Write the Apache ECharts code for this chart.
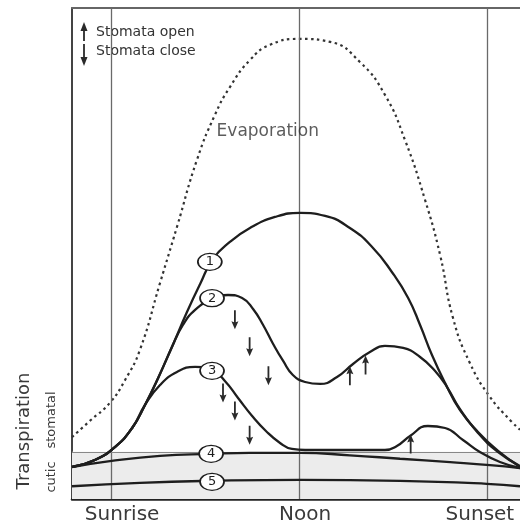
<!DOCTYPE html>
<html>
<head>
<meta charset="utf-8">
<script src="https://cdn.jsdelivr.net/npm/echarts@6/dist/echarts.min.js"></script>
<style>
  html, body { margin: 0; padding: 0; background: #fff; }
  #chart { width: 520px; height: 527px; }
</style>
</head>
<body>
<div id="chart"></div>
<script>
// Daily course of evaporation and transpiration (time of day in hours, relative units)
const dayMarks = [6, 12, 18];
const dayLabels = ['Sunrise', 'Noon', 'Sunset'];
const dayLabelAt = [6.35, 12.19, 17.77];

const evapHours  = [4.75, 5.32, 5.96, 6.44, 6.92, 7.56, 8.10, 8.74, 9.31, 9.79, 10.43, 11.07, 12.03, 12.99, 13.94, 14.74, 15.38, 16.02, 16.50, 16.91, 17.45, 18.09, 18.73, 19.05];
const evapValues = [12.6, 15.9, 19.6, 24.2, 30.4, 44.0, 55.4, 69.1, 78.2, 83.9, 89.4, 92.5, 93.7, 93.1, 89.0, 82.3, 73.1, 60.9, 49.7, 36.9, 27.7, 20.8, 16.1, 14.1];

// 1: unrestricted transpiration
const curve1Hours  = [4.75, 5.48, 6.12, 6.67, 7.08, 7.50, 7.94, 8.42, 8.84, 9.25, 9.79, 10.43, 11.23, 12.03, 12.83, 13.62, 14.33, 14.96, 15.48, 15.86, 16.24, 16.66, 17.13, 17.71, 18.35, 19.05];
const curve1Values = [6.52, 7.94, 10.59, 14.46, 19.15, 24.65, 30.96, 38.09, 43.80, 48.89, 52.35, 55.20, 57.44, 58.26, 57.65, 55.20, 51.33, 46.24, 40.94, 35.44, 29.33, 23.63, 18.13, 13.65, 9.78, 6.52];

// 2: midday depression
const curve2Hours  = [4.75, 5.48, 6.12, 6.67, 7.08, 7.50, 7.94, 8.29, 8.68, 9.22, 9.73, 10.18, 10.53, 10.85, 11.17, 11.49, 11.80, 12.19, 12.67, 13.21, 13.72, 14.26, 14.74, 15.32, 15.86, 16.34, 16.72, 17.13, 17.71, 18.35, 19.05];
const curve2Values = [6.52, 7.94, 10.59, 14.46, 19.15, 24.65, 30.96, 35.44, 38.50, 40.74, 41.55, 40.94, 38.70, 35.44, 31.57, 28.11, 25.26, 23.83, 23.43, 24.85, 27.50, 29.94, 31.17, 30.76, 28.93, 26.07, 22.81, 18.33, 13.44, 9.57, 6.72];

// 3: stomata closed from late morning
const curve3Hours  = [4.75, 5.48, 6.12, 6.67, 7.08, 7.56, 8.10, 8.68, 9.22, 9.63, 10.05, 10.50, 10.94, 11.39, 11.77, 12.19, 13.46, 14.74, 15.12, 15.54, 16.11, 16.66, 17.23, 17.77, 18.41, 19.05];
const curve3Values = [6.52, 7.94, 10.59, 14.46, 19.15, 23.22, 25.87, 26.89, 26.28, 24.04, 20.57, 16.91, 13.85, 11.41, 10.19, 9.98, 9.98, 9.98, 10.80, 12.83, 14.87, 14.46, 12.02, 9.57, 7.54, 6.31];

// 4 and 5: cuticular transpiration only
const curve4Hours  = [4.75, 5.96, 7.56, 9.15, 10.43, 12.03, 13.62, 15.22, 16.82, 18.09, 19.05];
const curve4Values = [6.5, 7.7, 8.8, 9.2, 9.4, 9.4, 8.9, 8.2, 7.5, 6.9, 6.3];

const curve5Hours  = [4.75, 6.92, 9.22, 12.03, 15.22, 17.99, 19.05];
const curve5Values = [2.6, 3.3, 3.7, 3.9, 3.7, 3.1, 2.6];

// Upper limit of cuticular transpiration
const cuticLimit = 9.6;

// Curve number tags
const tagNames  = ['1', '2', '3', '4', '5'];
const tagHours  = [9.15, 9.22, 9.22, 9.19, 9.22];
const tagValues = [48.3, 40.9, 26.1, 9.2, 3.5];

// Stomatal movements
const closeHours  = [9.95, 10.42, 11.02, 9.57, 9.95, 10.42];
const closeValues = [36.5, 31.0, 25.1, 21.6, 17.9, 13.0];
const openHours   = [13.62, 14.12, 15.56];
const openValues  = [25.1, 27.3, 11.2];

const zip = (xs, ys) => xs.map((x, i) => [x, ys[i]]);

const ink = '#1e1e1e';
const font = 'DejaVu Sans';
const arrowPath = 'path://M3.5,0 L7,8 L4.4,7 L4.4,19 L2.6,19 L2.6,7 L0,8 Z';

const curveSeries = (name, data) => ({
  name, type: 'line', data, smooth: 0.5, showSymbol: false,
  lineStyle: { color: ink, width: 2.3 }, z: 5, silent: true
});

const chart = echarts.init(document.getElementById('chart'), null, { renderer: 'canvas' });

chart.setOption({
  animation: false,
  backgroundColor: '#fff',
  grid: { left: 72, right: 0, top: 8, bottom: 28 },
  xAxis: [{
    type: 'value', min: 4.75, max: 19.05,
    axisLine: { show: true, onZero: false, lineStyle: { color: '#222', width: 2.5 } },
    axisTick: { show: false },
    splitLine: { show: false },
    axisLabel: {
      customValues: dayLabelAt,
      formatter: (v) => dayLabels[dayLabelAt.indexOf(v)] || '',
      color: '#3a3a3a', fontFamily: font, fontSize: 20, margin: 6
    }
  }, {
    type: 'value', min: 4.75, max: 19.05, position: 'top',
    axisLine: { show: true, onZero: false, lineStyle: { color: '#666', width: 2 } },
    axisTick: { show: false }, axisLabel: { show: false }, splitLine: { show: false }
  }],
  yAxis: {
    type: 'value', min: 0, max: 100,
    axisLine: { show: true, onZero: false, lineStyle: { color: '#444', width: 2 } },
    axisTick: { show: false }, axisLabel: { show: false }, splitLine: { show: false }
  },
  series: [
    {
      name: 'Evaporation', type: 'line', data: zip(evapHours, evapValues),
      smooth: 0.5, showSymbol: false, silent: true, z: 4,
      lineStyle: { color: '#333', width: 2.2, type: [2.5, 3.5] },
      markArea: {
        silent: true,
        itemStyle: { color: '#ececec' },
        data: [[{ yAxis: 0 }, { yAxis: cuticLimit }]]
      },
      markLine: {
        silent: true, symbol: 'none', label: { show: false },
        lineStyle: { color: '#6a6a6a', width: 1.3, type: 'solid' },
        data: dayMarks.map(h => ({ xAxis: h }))
          .concat([{ yAxis: cuticLimit, lineStyle: { color: '#888', width: 1 } }])
      }
    },
    curveSeries('1', zip(curve1Hours, curve1Values)),
    curveSeries('2', zip(curve2Hours, curve2Values)),
    curveSeries('3', zip(curve3Hours, curve3Values)),
    curveSeries('4', zip(curve4Hours, curve4Values)),
    curveSeries('5', zip(curve5Hours, curve5Values)),
    {
      name: 'label', type: 'scatter', silent: true, z: 6,
      data: [[11.0, 74.8]], symbolSize: 0,
      label: { show: true, position: 'inside', formatter: 'Evaporation',
               color: '#333', fontFamily: font, fontSize: 17 }
    },
    {
      name: 'tags', type: 'scatter', silent: true, z: 8,
      data: tagNames.map((t, i) => [tagHours[i], tagValues[i], t]),
      symbol: 'circle', symbolSize: [24, 17],
      itemStyle: { color: '#fff', borderColor: ink, borderWidth: 1.5, opacity: 1 },
      label: { show: true, position: 'inside', formatter: p => p.data[2],
               color: ink, fontFamily: font, fontSize: 13 }
    },
    {
      name: 'close', type: 'scatter', silent: true, z: 7,
      data: zip(closeHours, closeValues), symbol: arrowPath, symbolSize: [7, 19],
      symbolRotate: 180, itemStyle: { color: '#2a2a2a', opacity: 1 }
    },
    {
      name: 'open', type: 'scatter', silent: true, z: 7,
      data: zip(openHours, openValues), symbol: arrowPath, symbolSize: [7, 19],
      itemStyle: { color: '#2a2a2a', opacity: 1 }
    }
  ],
  graphic: [
    // key: stomata open / close
    { type: 'polygon', shape: { points: [[80.5, 31], [84, 22], [87.5, 31]] }, style: { fill: '#2a2a2a' } },
    { type: 'line', shape: { x1: 84, y1: 28, x2: 84, y2: 41 }, style: { stroke: '#2a2a2a', lineWidth: 1.8 } },
    { type: 'line', shape: { x1: 84, y1: 44, x2: 84, y2: 59 }, style: { stroke: '#2a2a2a', lineWidth: 1.8 } },
    { type: 'polygon', shape: { points: [[80.5, 57], [84, 66], [87.5, 57]] }, style: { fill: '#2a2a2a' } },
    { type: 'text', left: 96, top: 25, style: { text: 'Stomata open', fill: '#333', font: '14px "DejaVu Sans"' } },
    { type: 'text', left: 96, top: 44, style: { text: 'Stomata close', fill: '#333', font: '14px "DejaVu Sans"' } },
    // axis title
    { type: 'text', x: 24, y: 431, rotation: Math.PI / 2,
      style: { text: 'Transpiration', fill: '#3a3a3a', font: '18px "DejaVu Sans"', align: 'center', verticalAlign: 'middle' } },
    { type: 'text', x: 52, y: 420, rotation: Math.PI / 2,
      style: { text: 'stomatal', fill: '#3a3a3a', font: '13px "DejaVu Sans"', align: 'center', verticalAlign: 'middle' } },
    { type: 'text', x: 52, y: 477, rotation: Math.PI / 2,
      style: { text: 'cutic', fill: '#3a3a3a', font: '13px "DejaVu Sans"', align: 'center', verticalAlign: 'middle' } }
  ]
});
</script>
</body>
</html>
